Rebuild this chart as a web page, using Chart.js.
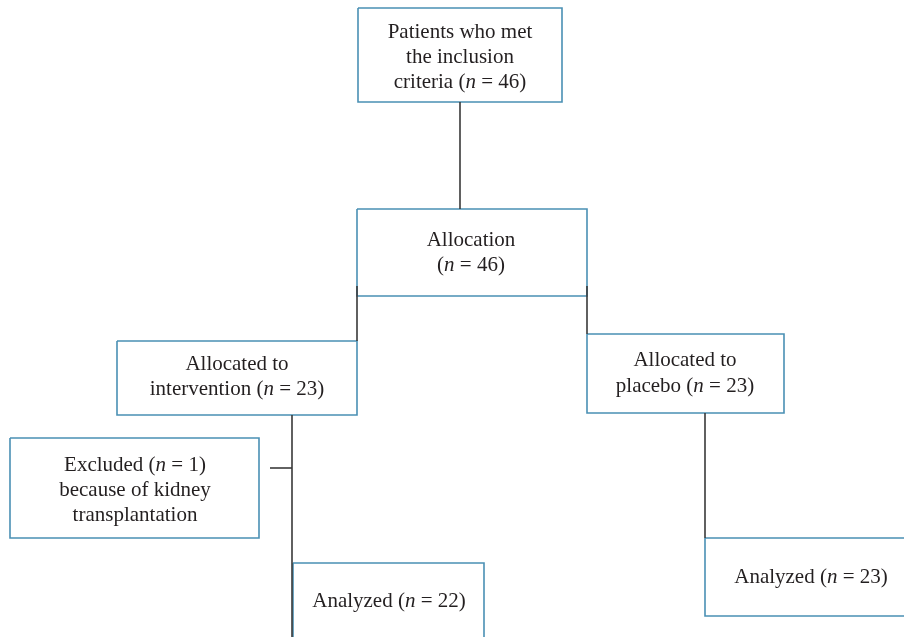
<!DOCTYPE html>
<html>
<head>
<meta charset="utf-8">
<script src="https://cdn.jsdelivr.net/npm/chart.js@4.4.1/dist/chart.umd.min.js"></script>
<style>
  html,body{margin:0;padding:0;background:#fff;}
  #wrap{width:904px;height:637px;}
</style>
</head>
<body>
<div id="wrap"><canvas id="c" width="904" height="637"></canvas></div>
<script>
// ---- data (text content and counts) ----
const stageLabels = [
  "Patients who met|the inclusion|criteria ({n})",
  "Allocation|({n})",
  "Allocated to|intervention ({n})",
  "Excluded ({n})|because of kidney|transplantation",
  "Allocated to|placebo ({n})",
  "Analyzed ({n})",
  "Analyzed ({n})"
];
const stageCounts = [46, 46, 23, 1, 23, 22, 23];

// ---- layout (geometry in page units) ----
const boxes = [
  {x0:358, y0:8,   x1:562, y1:102, tx:460, ty:[32,57,82]},
  {x0:357, y0:209, x1:587, y1:296, tx:471, ty:[240,265]},
  {x0:117, y0:341, x1:357, y1:415, tx:237, ty:[364,389]},
  {x0:10,  y0:438, x1:259, y1:538, tx:135, ty:[465,490,515]},
  {x0:587, y0:334, x1:784, y1:413, tx:685, ty:[360,386]},
  {x0:293, y0:563, x1:484, y1:660, tx:389, ty:[601]},
  {x0:705, y0:538, x1:920, y1:616, tx:811, ty:[577]}
];
const connectors = [
  [[460,102],[460,209]],
  [[357,286],[357,341]],
  [[587,286],[587,334]],
  [[292,415],[292,650]],
  [[270,468],[292,468]],
  [[705,413],[705,538]]
];
const BOX_COLOR = '#4a90b4';
const LINE_COLOR = '#3a3a3a';
const TEXT_COLOR = '#231f20';
const FONT = '"Liberation Serif", "DejaVu Serif", serif';
const FS = 21;

const datasets = [];
connectors.forEach(seg => {
  datasets.push({
    data: seg.map(p => ({x:p[0], y:p[1]})),
    showLine:true, borderColor:LINE_COLOR, borderWidth:1.6,
    pointRadius:0, fill:false, tension:0
  });
});
boxes.forEach(b => {
  datasets.push({
    data:[{x:b.x0,y:b.y0},{x:b.x1,y:b.y0},{x:b.x1,y:b.y1},{x:b.x0,y:b.y1},{x:b.x0,y:b.y0}],
    showLine:true, borderColor:BOX_COLOR, borderWidth:1.6,
    pointRadius:0, fill:false, tension:0, borderJoinStyle:'miter'
  });
});

const textPlugin = {
  id:'boxText',
  afterDatasetsDraw(chart){
    const ctx = chart.ctx, xs = chart.scales.x, ys = chart.scales.y;
    ctx.save();
    ctx.fillStyle = TEXT_COLOR;
    ctx.textBaseline = 'middle';
    ctx.textAlign = 'left';
    boxes.forEach((b, i) => {
      const lines = stageLabels[i].split('|');
      lines.forEach((line, li) => {
        let segs = [];
        const k = line.indexOf('{n}');
        if (k >= 0) {
          segs.push({t:line.slice(0,k), it:false});
          segs.push({t:'n', it:true});
          segs.push({t:' = ' + stageCounts[i] + line.slice(k+3), it:false});
        } else segs.push({t:line, it:false});
        let w = 0;
        segs.forEach(s => { ctx.font = (s.it?'italic ':'') + FS + 'px ' + FONT; s.w = ctx.measureText(s.t).width; w += s.w; });
        let x = xs.getPixelForValue(b.tx) - w/2;
        const y = ys.getPixelForValue(b.ty[li]);
        segs.forEach(s => { ctx.font = (s.it?'italic ':'') + FS + 'px ' + FONT; ctx.fillText(s.t, x, y); x += s.w; });
      });
    });
    ctx.restore();
  }
};

new Chart(document.getElementById('c'), {
  type:'scatter',
  data:{datasets},
  options:{
    responsive:false, animation:false,
    layout:{padding:0},
    plugins:{legend:{display:false}, tooltip:{enabled:false}},
    scales:{
      x:{type:'linear', min:0, max:904, display:false},
      y:{type:'linear', min:0, max:637, reverse:true, display:false}
    }
  },
  plugins:[textPlugin]
});
</script>
</body>
</html>
